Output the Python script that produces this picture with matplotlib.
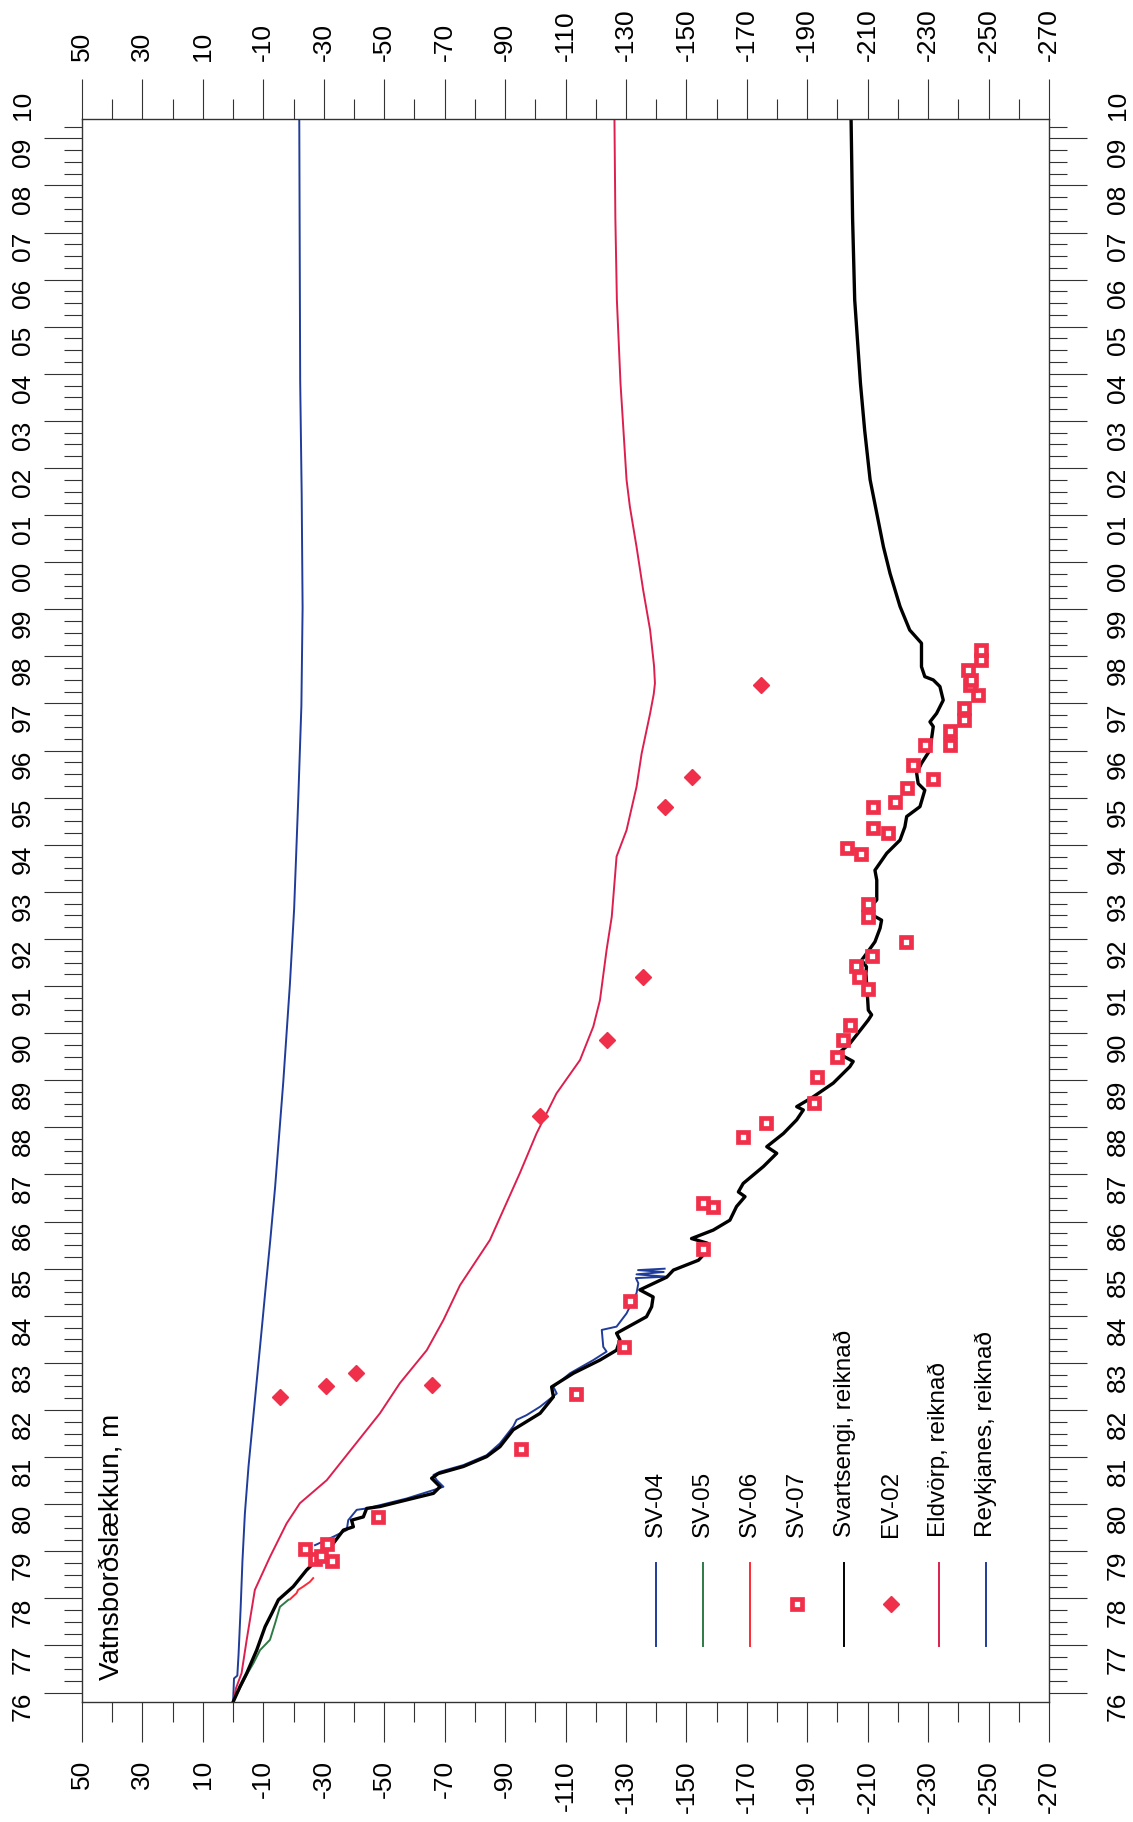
import numpy as np
import matplotlib
matplotlib.use("Agg")
import matplotlib.pyplot as plt
import matplotlib.transforms as mtransforms
from matplotlib.ticker import FixedLocator

plt.rcParams["font.family"] = ["Liberation Sans", "DejaVu Sans"]
plt.rcParams["axes.unicode_minus"] = False

# Svartsengi, reiknað (black)
svs_year = [1976.00, 1976.33, 1976.61, 1977.10, 1977.60, 1977.88, 1978.17, 1978.45, 1978.80,
            1979.08, 1979.37, 1979.65, 1979.72, 1979.86, 1979.93, 1980.11, 1980.15, 1980.29,
            1980.43, 1980.57, 1980.75, 1980.85, 1981.00, 1981.21, 1981.42, 1981.78, 1982.13,
            1982.48, 1982.69, 1982.98, 1983.26, 1983.47, 1983.69, 1983.83, 1984.18, 1984.39,
            1984.60, 1984.75, 1985.02, 1985.17, 1985.38, 1985.49, 1985.74, 1985.84, 1986.02,
            1986.23, 1986.52, 1986.73, 1986.83, 1987.01, 1987.37, 1987.65, 1987.79, 1988.07,
            1988.36, 1988.57, 1988.64, 1988.85, 1989.14, 1989.49, 1989.60, 1989.77, 1989.98,
            1990.34, 1990.48, 1990.59, 1990.69, 1991.12, 1991.47, 1991.61, 1991.75, 1991.89,
            1992.14, 1992.43, 1992.60, 1992.78, 1993.03, 1993.45, 1993.66, 1994.02, 1994.30,
            1994.58, 1994.80, 1995.01, 1995.36, 1995.50, 1995.72, 1995.93, 1996.21, 1996.71,
            1996.81, 1996.99, 1997.27, 1997.56, 1997.70, 1997.77, 1997.98, 1998.48, 1998.76,
            1999.26, 1999.96, 2000.53, 2001.24, 2001.95, 2003.00, 2004.00, 2005.77, 2007.50,
            2009.61]
svs_val = [0.0, -2.3, -4.5, -7.8, -10.6, -12.8, -15.0, -19.9, -24.3,
           -28.8, -33.2, -36.5, -39.8, -39.2, -43.1, -44.2, -48.6, -57.4,
           -66.3, -68.5, -65.7, -67.9, -76.2, -83.9, -88.3, -92.7, -101.6,
           -106.0, -105.4, -112.6, -121.4, -126.9, -128.0, -126.9, -136.8, -138.5,
           -139.0, -134.6, -143.5, -145.7, -154.0, -155.6, -157.0, -151.7, -158.9,
           -164.4, -166.6, -169.4, -167.2, -168.8, -175.5, -179.9, -176.6, -182.1,
           -186.5, -188.7, -186.5, -192.0, -198.6, -204.1, -205.2, -200.3, -204.1,
           -208.5, -210.2, -211.3, -210.2, -209.8, -209.4, -209.6, -208.0, -209.6,
           -212.4, -214.1, -214.6, -209.6, -213.0, -213.0, -212.4, -216.3, -220.7,
           -222.3, -222.9, -227.3, -228.9, -226.7, -226.2, -227.8, -230.6, -231.7,
           -230.6, -232.8, -235.0, -233.9, -231.7, -228.9, -227.8, -227.8, -223.9,
           -220.7, -217.4, -215.2, -213.0, -210.8, -209.0, -207.6, -205.7, -205.0,
           -204.5]

# Eldvörp, reiknað (crimson)
eld_year = [1976.00, 1976.30, 1976.61, 1977.32, 1978.38, 1979.08, 1979.79, 1980.22, 1980.71,
            1981.42, 1982.13, 1982.77, 1983.47, 1984.11, 1984.85, 1985.81, 1987.23, 1988.07,
            1988.92, 1989.63, 1990.34, 1990.90, 1991.97, 1992.67, 1993.95, 1994.51, 1995.43,
            1996.14, 1996.99, 1997.40, 1997.63, 1998.00, 1998.76, 1999.61, 2000.53, 2001.38,
            2001.95, 2004.00, 2005.77, 2007.50, 2009.61]
eld_val = [0.0, -1.0, -2.8, -4.5, -7.2, -12.2, -17.7, -22.1, -31.0,
           -39.8, -48.6, -55.2, -64.1, -69.6, -75.1, -85.0, -94.9, -100.4,
           -107.0, -114.8, -119.2, -121.4, -123.6, -125.3, -126.9, -130.2, -133.5,
           -135.2, -138.0, -139.2, -139.6, -139.3, -138.0, -135.7, -133.5, -131.3,
           -130.2, -128.2, -127.0, -126.5, -126.2]

# Reykjanes, reiknað (blue)
rey_year = [1976.00, 1976.50, 1976.56, 1977.00, 1978.00, 1979.00, 1980.00, 1981.00, 1982.00,
            1983.00, 1984.00, 1984.68, 1985.80, 1986.93, 1989.16, 1991.24, 1992.84, 1995.24,
            1997.15, 1999.23, 2001.63, 2004.03, 2009.61]
rey_val = [0.0, -0.3, -1.4, -1.8, -2.5, -3.1, -3.9, -5.1, -6.6,
           -8.1, -9.6, -10.6, -12.3, -13.9, -16.6, -18.8, -20.2, -21.6,
           -22.6, -23.0, -22.7, -22.2, -21.9]

# SV-04 (measured)
sv04_year = [1979.33, 1979.51, 1979.65, 1979.86, 1980.08, 1980.11, 1980.32, 1980.50, 1980.57,
             1980.71, 1980.82, 1980.89, 1981.03, 1981.24, 1981.49, 1981.85, 1981.99, 1982.09,
             1982.27, 1982.55, 1982.69, 1982.98, 1983.26, 1983.44, 1983.54, 1983.90, 1983.97,
             1984.25, 1984.68, 1984.89, 1985.00, 1985.03, 1985.08, 1985.13, 1985.17, 1985.20]
sv04_val = [-27.1, -33.2, -37.6, -38.1, -40.9, -44.2, -57.4, -66.3, -69.6,
            -67.4, -66.3, -68.5, -76.2, -83.9, -88.3, -92.7, -93.8, -97.1,
            -101.6, -107.1, -106.0, -111.5, -119.2, -123.6, -122.5, -122.0, -126.9,
            -130.2, -133.5, -134.1, -133.3, -143.5, -133.5, -142.5, -134.0, -142.8]

# SV-05 (measured)
sv05_year = [1976.00, 1976.33, 1976.61, 1976.82, 1977.10, 1977.32, 1977.67, 1978.02, 1978.17]
sv05_val = [0.0, -2.6, -4.8, -6.7, -8.9, -12.2, -13.9, -15.5, -18.3]

# SV-06 (measured)
sv06_year = [1978.18, 1978.31, 1978.38, 1978.45, 1978.55, 1978.63]
sv06_val = [-18.8, -21.0, -21.5, -23.2, -25.4, -26.5]

# SV-07 (measured points)
sv07_year = [1979.00, 1979.03, 1979.10, 1979.24, 1979.35, 1979.93, 1981.38, 1982.54, 1983.53,
             1984.51, 1985.61, 1986.52, 1986.60, 1987.99, 1988.30, 1988.72, 1989.28, 1989.69,
             1990.06, 1990.37, 1991.13, 1991.39, 1991.63, 1991.84, 1992.14, 1992.66, 1992.94,
             1994.00, 1994.13, 1994.46, 1994.55, 1995.00, 1995.11, 1995.40, 1995.59, 1995.89,
             1996.32, 1996.32, 1996.62, 1996.86, 1997.10, 1997.38, 1997.59, 1997.70, 1997.91,
             1998.12, 1998.34]
sv07_val = [-32.8, -27.1, -29.0, -23.8, -31.0, -47.8, -95.2, -113.4, -129.4,
            -131.5, -155.6, -158.9, -155.4, -168.8, -176.2, -192.2, -193.1, -199.7,
            -201.9, -204.1, -210.2, -207.1, -206.1, -211.3, -222.7, -210.2, -210.2,
            -207.7, -203.3, -216.8, -211.6, -211.6, -219.0, -223.1, -231.7, -224.9,
            -228.9, -237.4, -237.4, -241.9, -241.9, -246.6, -243.8, -244.1, -243.3,
            -247.5, -247.5]

# EV-02 (measured points)
ev02_year = [1982.48, 1982.71, 1982.98, 1982.72, 1988.44, 1990.06, 1991.40, 1995.00, 1995.63, 1997.59]
ev02_val = [-15.5, -30.6, -40.7, -65.7, -101.6, -123.6, -135.7, -142.9, -152.0, -174.8]

year_labels = ["%02d" % (y % 100) for y in range(1976, 2011)]
value_ticks = list(range(50, -271, -20))

RED_PT = "#f0304a"
c_blue = "#1f3c9a"
c_green = "#2e7a45"
c_red = "#ff2a35"
c_crimson = "#dc1f4e"

fig = plt.figure(figsize=(11.33, 18.22), dpi=100)
ax = fig.add_axes([0.07237, 0.06586, 0.8535, 0.86883])

# chart is drawn rotated: values run left->right, time runs bottom->top
ax.plot(rey_val, rey_year, color=c_blue, lw=1.4)
ax.plot(eld_val, eld_year, color=c_crimson, lw=1.4)
ax.plot(sv05_val, sv05_year, color=c_green, lw=1.4)
ax.plot(sv06_val, sv06_year, color=c_red, lw=1.4)
ax.plot(sv04_val, sv04_year, color=c_blue, lw=1.4)
ax.plot(svs_val, svs_year, color="black", lw=2.4)
ax.plot(sv07_val, sv07_year, ls="none", marker="s", ms=7, mfc="white",
        mec=RED_PT, mew=3.4)
ax.plot(ev02_val, ev02_year, ls="none", marker="D", ms=8.5, color=RED_PT, mec=RED_PT)

ax.set_xlim(50, -270)
ax.set_ylim(1976.0, 2009.61)

ax.xaxis.set_major_locator(FixedLocator(value_ticks))
ax.xaxis.set_minor_locator(FixedLocator(list(range(40, -270, -20))))
ax.set_xticklabels([str(v) for v in value_ticks])
ax.tick_params(axis="x", which="major", length=28.8, width=0.8, color="#333333",
               top=True, bottom=True, labeltop=True, labelbottom=True,
               labelrotation=90, labelsize=19, pad=13)
ax.tick_params(axis="x", which="minor", length=14.4, width=0.8, color="#333333",
               top=True, bottom=True)

ax.yaxis.set_major_locator(FixedLocator(list(np.arange(34) + 1976.2)))
ax.yaxis.set_minor_locator(FixedLocator(list(np.arange(0, 33.5, 0.25) + 1976.2)))
ax.tick_params(axis="y", which="major", length=27.4, width=0.8, color="#333333",
               left=True, right=True, labelleft=False, labelright=False)
ax.tick_params(axis="y", which="minor", length=13, width=0.8, color="#333333",
               left=True, right=True)

for s in ax.spines.values():
    s.set_color("#333333")
    s.set_linewidth(1.0)

# year labels on both sides
trans = mtransforms.blended_transform_factory(ax.transAxes, ax.transData)
for k, lab in enumerate(year_labels):
    yy = 1975.9 + k
    ax.text(-0.061, yy, lab, transform=trans, rotation=90, ha="center",
            va="center", fontsize=19)
    ax.text(1.0713, yy, lab, transform=trans, rotation=90, ha="center",
            va="center", fontsize=19)

ax.text(0.031, 0.0139, "Vatnsborðslækkun, m", transform=ax.transAxes,
        rotation=90, ha="center", va="bottom", fontsize=20)

# legend, drawn rotated like the chart
leg_names = ["SV-04", "SV-05", "SV-06", "SV-07", "Svartsengi, reiknað",
             "EV-02", "Eldvörp, reiknað", "Reykjanes, reiknað"]
leg_kind = ["line", "line", "line", "square", "line", "diamond", "line", "line"]
leg_col = [c_blue, c_green, c_red, RED_PT, "black", RED_PT, c_crimson, c_blue]
for i, (name, kind, col) in enumerate(zip(leg_names, leg_kind, leg_col)):
    lx = 0.5936 + i * 0.0487
    if kind == "line":
        ax.plot([lx, lx], [0.0354, 0.0878], transform=ax.transAxes, color=col,
                lw=1.4, clip_on=False)
    elif kind == "square":
        ax.plot([lx], [0.0619], transform=ax.transAxes, ls="none", marker="s",
                ms=7, mfc="white", mec=col, mew=3.4)
    else:
        ax.plot([lx], [0.0619], transform=ax.transAxes, ls="none", marker="D",
                ms=8.5, color=col)
    ax.text(lx, 0.1042, name, transform=ax.transAxes, rotation=90,
            ha="center", va="bottom", fontsize=17.5)

fig.savefig("out.png", dpi=100)
